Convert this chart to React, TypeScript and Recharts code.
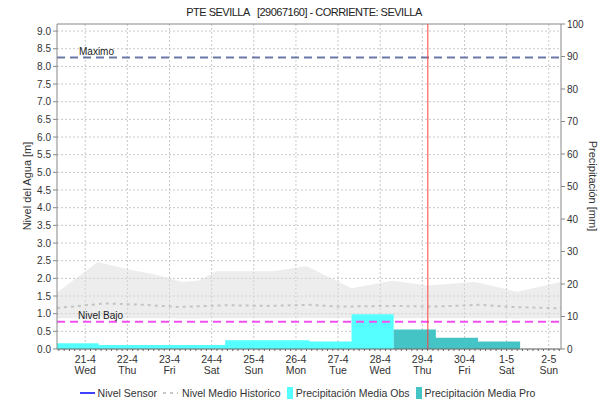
import {
  ComposedChart,
  Area,
  Line,
  XAxis,
  YAxis,
  CartesianGrid,
  ReferenceLine,
  Legend,
} from "recharts";

const font = "'Liberation Sans', Arial, sans-serif";
const title = "PTE SEVILLA   [29067160] - CORRIENTE: SEVILLA";

// days counted from 21-4 00:00
const dayLabels = ["21-4", "22-4", "23-4", "24-4", "25-4", "26-4", "27-4", "28-4", "29-4", "30-4", "1-5", "2-5"];
const weekDays = ["Wed", "Thu", "Fri", "Sat", "Sun", "Mon", "Tue", "Wed", "Thu", "Fri", "Sat", "Sun"];
const tStart = -0.67;
const tEnd = 11.29;
const nowT = 8.13;

const levelTicks = [0, 0.5, 1, 1.5, 2, 2.5, 3, 3.5, 4, 4.5, 5, 5.5, 6, 6.5, 7, 7.5, 8, 8.5, 9];
const mmTicks = [0, 10, 20, 30, 40, 50, 60, 70, 80, 90, 100];

const maxLevel = 8.25;
const lowLevel = 0.77;

// historic range band (m)
const bandT = [-0.67, 0.3, 1.06, 1.6, 2.32, 2.67, 3.12, 3.83, 4.45, 5.25, 6.32, 7.29, 8.12, 9.24, 10.25, 11.29];
const bandHigh = [1.6, 2.46, 2.24, 2.12, 1.9, 1.93, 2.2, 2.2, 2.2, 2.34, 1.72, 1.93, 1.8, 1.9, 1.62, 1.9];
const bandLow = [0.87, 0.88, 0.87, 0.87, 0.86, 0.86, 0.87, 0.87, 0.87, 0.88, 0.87, 0.87, 0.87, 0.87, 0.86, 0.87];

// historic mean level (m)
const meanT = [-0.67, 0.47, 1.4, 2.25, 3.36, 4.3, 5.33, 5.99, 7.2, 8.29, 9.35, 10.14, 11.29];
const meanLevel = [1.16, 1.29, 1.25, 1.19, 1.24, 1.22, 1.25, 1.2, 1.22, 1.2, 1.25, 1.19, 1.15];

// daily precipitation (mm), 7h to 7h
const obsStart = [-0.67, 0.32, 1.32, 2.32, 3.32, 4.32, 5.32, 6.32];
const obsEnd = [0.32, 1.32, 2.32, 3.32, 4.32, 5.32, 6.32, 7.32];
const obsMm = [1.8, 1.2, 1.2, 1.2, 2.7, 2.7, 2.3, 10.7];
const proStart = [7.32, 8.32, 9.32];
const proEnd = [8.32, 9.32, 10.32];
const proMm = [6.0, 3.5, 2.3];

const legendNames = ["Nivel Sensor", "Nivel Medio Historico", "Precipitación Media Obs", "Precipitación Media Pro"];

const bandData = bandT.map((t, i) => ({ t, range: [bandLow[i], bandHigh[i]] }));
const meanData = meanT.map((t, i) => ({ t, mean: meanLevel[i] }));
const steps = (s: number[], e: number[], v: number[]) =>
  s.flatMap((st, i) => [
    { t: st, mm: v[i] },
    { t: e[i], mm: v[i] },
  ]);
const obsData = steps(obsStart, obsEnd, obsMm);
const proData = steps(proStart, proEnd, proMm);

// 3-hour minor ticks on the time axis
const timeTicks: number[] = [];
for (let k = -5; k <= 90; k++) timeTicks.push(k * 0.125);

const DayTick = ({ x, y, payload }: any) => {
  const v = payload.value;
  if (!Number.isInteger(v)) return <g />;
  return (
    <text x={x} y={y} textAnchor="middle" fontSize={10.5} fill="#333">
      <tspan x={x} dy={10}>{dayLabels[v]}</tspan>
      <tspan x={x} dy={11}>{weekDays[v]}</tspan>
    </text>
  );
};

const LegendContent = () => (
  <div
    style={{
      height: 18,
      display: "flex",
      justifyContent: "center",
      alignItems: "center",
      gap: 6,
      fontSize: 10.5,
      color: "#333",
      fontFamily: font,
    }}
  >
    <span style={{ display: "flex", alignItems: "center" }}>
      <svg width={16} height={8}>
        <line x1={0} y1={4} x2={15} y2={4} stroke="#0000ff" strokeWidth={1.5} />
      </svg>
      <span style={{ marginLeft: 2 }}>{legendNames[0]}</span>
    </span>
    <span style={{ display: "flex", alignItems: "center" }}>
      <svg width={16} height={8}>
        <line x1={0} y1={4} x2={15} y2={4} stroke="#c8c8c8" strokeWidth={2} strokeDasharray="3 4" />
      </svg>
      <span style={{ marginLeft: 3 }}>{legendNames[1]}</span>
    </span>
    <span style={{ display: "flex", alignItems: "center" }}>
      <svg width={7} height={12}>
        <rect x={0} y={0} width={6} height={12} fill="#55ffff" />
      </svg>
      <span style={{ marginLeft: 2 }}>{legendNames[2]}</span>
    </span>
    <span style={{ display: "flex", alignItems: "center" }}>
      <svg width={7} height={12}>
        <rect x={0} y={0} width={6} height={12} fill="#44c4c4" />
      </svg>
      <span style={{ marginLeft: 2 }}>{legendNames[3]}</span>
    </span>
  </div>
);

export default function App() {
  return (
    <div style={{ width: 615, height: 405, fontFamily: font, background: "#fff" }}>
      <style>{`body{margin:0}`}</style>
      <ComposedChart width={615} height={405} margin={{ top: 24, right: 0, left: 0, bottom: 3 }}>
        <text
          x={304}
          y={16}
          textAnchor="middle"
          fontSize={11}
          letterSpacing={-0.5}
          fill="#222"
          style={{ whiteSpace: "pre" }}
        >
          {title}
        </text>
        <text
          x={31}
          y={186}
          textAnchor="middle"
          fontSize={11}
          fill="#333"
          transform="rotate(-90 31 186)"
        >
          Nivel del Agua [m]
        </text>
        <text
          x={589}
          y={186}
          textAnchor="middle"
          fontSize={11}
          fill="#333"
          transform="rotate(90 589 186)"
        >
          Precipitación [mm]
        </text>
        <CartesianGrid
          yAxisId="lvl"
          stroke="#c8c8c8"
          strokeDasharray="2 2"
          verticalValues={dayLabels.map((_, i) => i)}
          horizontalValues={levelTicks}
        />
        <XAxis
          dataKey="t"
          type="number"
          domain={[tStart, tEnd]}
          allowDataOverflow
          ticks={timeTicks}
          interval={0}
          tick={<DayTick />}
          tickSize={2}
          tickMargin={2}
          height={35}
          stroke="#666"
        />
        <YAxis
          yAxisId="lvl"
          type="number"
          domain={[0, 9.2]}
          allowDataOverflow
          ticks={levelTicks}
          interval={0}
          tickFormatter={(v: number) => v.toFixed(1)}
          tick={{ fontSize: 10, fill: "#333" }}
          tickSize={4}
          tickMargin={2}
          width={57}
          stroke="#888"
        />
        <YAxis
          yAxisId="mm"
          orientation="right"
          type="number"
          domain={[0, 100]}
          allowDataOverflow
          ticks={mmTicks}
          interval={0}
          tick={{ fontSize: 10, fill: "#333" }}
          tickSize={4}
          tickMargin={2}
          width={54}
          stroke="#888"
        />
        <Area
          yAxisId="lvl"
          data={bandData}
          dataKey="range"
          type="linear"
          stroke="none"
          fill="#dcdcdc"
          fillOpacity={0.5}
          isAnimationActive={false}
        />
        <Line
          yAxisId="lvl"
          data={meanData}
          dataKey="mean"
          type="linear"
          stroke="#c4c4c4"
          strokeWidth={2}
          strokeDasharray="3 4"
          dot={false}
          isAnimationActive={false}
        />
        <Area
          yAxisId="mm"
          data={obsData}
          dataKey="mm"
          type="linear"
          stroke="none"
          fill="#55ffff"
          fillOpacity={1}
          isAnimationActive={false}
        />
        <Area
          yAxisId="mm"
          data={proData}
          dataKey="mm"
          type="linear"
          stroke="none"
          fill="#44c4c4"
          fillOpacity={1}
          isAnimationActive={false}
        />
        <ReferenceLine yAxisId="lvl" y={9.2} stroke="#888" />
        <ReferenceLine
          yAxisId="lvl"
          y={maxLevel}
          stroke="#6a78a8"
          strokeWidth={2}
          strokeDasharray="8 5"
          label={(p: any) => (
            <text x={p.viewBox.x + 22} y={p.viewBox.y - 3} fontSize={10} fill="#222">
              Maximo
            </text>
          )}
        />
        <ReferenceLine
          yAxisId="lvl"
          y={lowLevel}
          stroke="#f050f0"
          strokeWidth={2}
          strokeDasharray="8 5"
          label={(p: any) => (
            <text x={p.viewBox.x + 21} y={p.viewBox.y - 3} fontSize={10} fill="#222">
              Nivel Bajo
            </text>
          )}
        />
        <ReferenceLine yAxisId="lvl" x={nowT} stroke="#ff4040" strokeWidth={1} />
        <Legend verticalAlign="bottom" height={18} content={<LegendContent />} />
      </ComposedChart>
    </div>
  );
}
